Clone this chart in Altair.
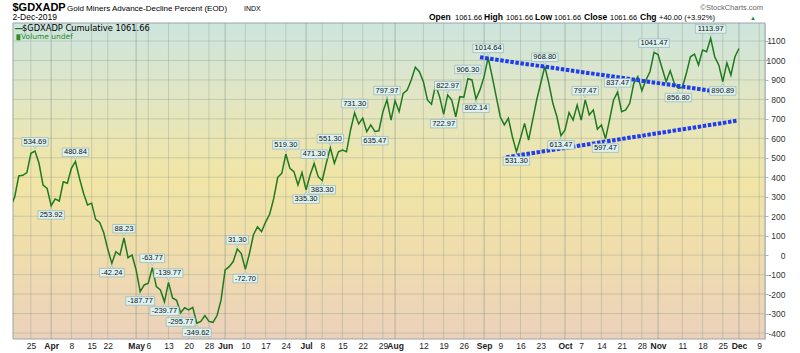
import json
import altair as alt
import pandas as pd

# ---------------- data ----------------
# cumulative advance-decline value per trading day (index 0 = 18-Mar-2019)
values = [
    250, 300, 407, 410, 424, 523, 534.69, 472, 360, 343,
    253.92, 289, 278, 377, 369, 446, 480.84, 395, 318, 258,
    267, 184, 168, 115, 30, -42.24, 18, 1, 88.23, -13,
    1, -76, -187.77, -153, -144, -63.77, -162, -179, -239.77, -139.77,
    -220, -232, -295.77, -270, -281, -268, -349.62, -340, -310, -340,
    -345, -310, -230, -76, -59, -33, 31.30, 8, -72.70, 8,
    105, 145, 121, 170, 210, 290, 400, 420, 519.30, 446,
    429, 360, 424, 335.30, 412, 471.30, 403, 383.30, 472, 551.30,
    472, 531, 540, 531, 643, 731.30, 674, 703, 634, 669,
    635.47, 639, 737, 797.97, 694, 793, 737, 831, 848, 900,
    965, 942, 891, 797, 775, 874, 814, 722.97, 822.97, 797,
    711, 814, 811, 906.30, 900, 802.14, 850, 917, 1014.64, 917,
    814, 711, 669, 703, 608, 531.30, 600, 677, 591, 694,
    797, 883, 968.80, 883, 780, 711, 613.47, 643, 732, 694,
    771, 694, 797.47, 720, 746, 647, 669, 597.47, 694, 797,
    837.47, 737, 746, 780, 883, 917, 845, 900, 942, 1041.47,
    1030, 960, 891, 947, 883, 856.80, 862, 934, 1019, 1033,
    977, 1054, 1045, 1113.97, 1019, 977, 890.89, 988, 925, 1019,
    1061.66,
]

# annotated highs (+1) and lows (-1)
ann_idx = [6, 10, 16, 25, 28, 32, 35, 38, 39, 42, 46, 56, 58, 68, 73, 75, 77, 79,
           85, 90, 93, 107, 108, 113, 115, 118, 125, 132, 136, 142, 147, 150,
           159, 165, 173, 176]
ann_side = [1, -1, 1, -1, 1, -1, 1, -1, 1, -1, -1, 1, -1, 1, -1, 1, -1, 1,
            1, -1, 1, -1, 1, 1, -1, 1, -1, 1, -1, 1, -1, 1,
            1, -1, 1, -1]

# x-axis ticks (trading-day index) and their labels
tick_idx = [5, 10, 15, 20, 24, 31, 34, 39, 44, 49, 53, 58, 63, 68, 73, 77, 82, 87, 92,
            95, 102, 107, 112, 117, 121, 126, 131, 137, 141, 146, 151, 156, 160, 166,
            171, 176, 180, 185]
tick_lbl = ['25', 'Apr', '8', '15', '22', 'May', '6', '13', '20', '28', 'Jun', '10', '17',
            '24', 'Jul', '8', '15', '22', '29', 'Aug', '12', '19', '26', 'Sep', '9', '16',
            '23', 'Oct', '7', '14', '21', '28', 'Nov', '11', '18', '25', 'Dec', '9']
month_idx = [10, 31, 53, 73, 95, 117, 137, 160, 180]
y_ticks = list(range(-400, 1200, 100))

# trend lines
upper_idx = [116.0, 177.6]
upper_val = [1016, 831]
lower_idx = [122.5, 179.6]
lower_val = [503, 691]

# ---------------- layout ----------------
W, H = 752, 316
X_LO, X_HI = 0.57, 186.43
Y_LO, Y_HI = -430.6, 1192.4
PPI = W / (X_HI - X_LO)
FONT = "Liberation Sans"

xs = alt.Scale(domain=[X_LO, X_HI], nice=False, zero=False)
ys = alt.Scale(domain=[Y_LO, Y_HI], nice=False, zero=False)

df = pd.DataFrame({"idx": list(range(len(values))), "v": values})
ann = pd.DataFrame({"idx": ann_idx, "v": [values[i] for i in ann_idx], "side": ann_side})
ticks = pd.DataFrame({"idx": tick_idx, "lbl": tick_lbl})
ticks["month"] = [1 if i in month_idx else 0 for i in tick_idx]
ydf = pd.DataFrame({"v": y_ticks})
trend = pd.DataFrame({
    "idx": upper_idx + lower_idx,
    "v": upper_val + lower_val,
    "grp": ["u", "u", "l", "l"],
})
one = pd.DataFrame({"a": [0]})

BOXF = "#def3f1"
BOXS = "#93b4b6"

label_expr = f"{json.dumps(tick_lbl)}[indexof({json.dumps(tick_idx)}, datum.value)]"
xaxis = alt.Axis(
    values=tick_idx, labelExpr=label_expr, grid=False, domain=False, ticks=False,
    labelPadding=2, labelFontSize=8.5, labelFont=FONT, labelColor="#222",
    labelFontWeight={"condition": {"test": f"indexof({json.dumps(month_idx)}, datum.value) >= 0",
                                   "value": "bold"}, "value": "normal"},
    labelOverlap=False, labelFlush=False, labelBound=False, title=None,
)
yaxis = alt.Axis(
    orient="right", values=y_ticks, grid=False, domainColor="#9fb6c2", domainDash=[1, 1],
    tickColor="#9fb6c2", tickSize=3, labelAlign="right", labelPadding=17,
    labelExpr="'' + datum.value",
    labelFontSize=8.5, labelFont=FONT, labelColor="#333", title=None,
    labelBound=False, labelFlush=False, labelOverlap=False,
)


def X(field):
    return alt.X(field, scale=xs, axis=xaxis)


def Y(field):
    return alt.Y(field, scale=ys, axis=yaxis)


bg = alt.Chart(one).mark_rect(
    fill=alt.Gradient(
        gradient="linear",
        stops=[
            alt.GradientStop(color="#cde5de", offset=0),
            alt.GradientStop(color="#e3e6c2", offset=0.25),
            alt.GradientStop(color="#f1e5a6", offset=0.5),
            alt.GradientStop(color="#efdcae", offset=0.75),
            alt.GradientStop(color="#ebd1bb", offset=1),
        ],
        x1=0, x2=0, y1=0, y2=1,
    ),
    stroke="#9aa6a6", strokeWidth=1,
).encode(x=alt.value(0), x2=alt.value(W), y=alt.value(0), y2=alt.value(H))

hgrid = alt.Chart(ydf).mark_rule(color="#7f8f80", strokeWidth=1, opacity=0.3).encode(
    y=Y("v:Q")
)
vgrid = alt.Chart(ticks).mark_rule(color="#7f8f80", strokeWidth=1).encode(
    x=X("idx:Q"),
    opacity=alt.condition("datum.month == 1", alt.value(0.5), alt.value(0.3)),
)

line = alt.Chart(df).mark_line(color="#1f7a1f", strokeWidth=1.5, clip=True).encode(
    x=X("idx:Q"), y=Y("v:Q"),
)

trend_lines = alt.Chart(trend).mark_line(
    color="#1e3cf0", strokeWidth=4, strokeDash=[3.5, 1.6], strokeCap="butt"
).encode(x=X("idx:Q"), y=Y("v:Q"), detail="grp:N")

ann_base = alt.Chart(ann).transform_calculate(
    label="(datum.v < 0 ? '-' : '') + format(abs(datum.v), '.2f')"
).transform_calculate(
    wpx="4.17*length(datum.label) - 2.09 - (datum.v < 0 ? 1.67 : 0) + 3.5"
).transform_calculate(
    xa=f"datum.idx - datum.wpx / 2 / {PPI}",
    xb=f"datum.idx + datum.wpx / 2 / {PPI}",
)


def ann_layers(side):
    sel = ann_base.transform_filter(f"datum.side == {side}")
    up = side > 0
    tri = sel.mark_point(
        shape="triangle-down" if up else "triangle-up", size=22, filled=True,
        fill=BOXF, stroke=BOXS, strokeWidth=0.6, opacity=1,
        yOffset=-4 if up else 4,
    ).encode(x=X("idx:Q"), y=Y("v:Q"))
    box = sel.mark_rect(
        fill=BOXF, stroke=BOXS, strokeWidth=0.7,
        yOffset=-13.5 if up else 5, y2Offset=-5 if up else 13.5,
    ).encode(x=X("xa:Q"), x2="xb:Q", y=Y("v:Q"), y2="v:Q")
    txt = sel.mark_text(
        dy=-9.2 if up else 9.3, fontSize=7.5, font=FONT, color="#111", baseline="middle",
    ).encode(x=X("idx:Q"), y=Y("v:Q"), text="label:N")
    return [tri, box, txt]


def txt(s, x, y, size, weight="normal", color="#000", align="left", font=FONT):
    return alt.Chart(one).mark_text(
        text=s, align=align, baseline="alphabetic", fontSize=size,
        fontWeight=weight, color=color, font=font,
    ).encode(x=alt.value(x - 13), y=alt.value(y - 23))


header = [
    txt("$GDXADP", 12.5, 10.5, 11, "bold"),
    txt("Gold Miners Advance-Decline Percent (EOD)", 67, 10.5, 8),
    txt("INDX", 244, 10.5, 7),
    txt("2-Dec-2019", 12.5, 19.5, 8.5),
    txt("\u00a9StockCharts.com", 763, 9.5, 7.5, color="#666", align="right"),
    txt("Open", 429, 19.5, 8.5, "bold"),
    txt("1061.66", 455, 19.5, 7.5),
    txt("High", 484, 19.5, 8.5, "bold"),
    txt("1061.66", 506, 19.5, 7.5),
    txt("Low", 535, 19.5, 8.5, "bold"),
    txt("1061.66", 554, 19.5, 7.5),
    txt("Close", 584, 19.5, 8.5, "bold"),
    txt("1061.66", 610, 19.5, 7.5),
    txt("Chg", 640, 19.5, 8.5, "bold"),
    txt("+40.00 (+3.92%)", 659, 19.5, 7.5),
    txt("\u25b2", 750, 19.5, 6, color="#2a8a2a"),
    txt("\u2014", 14.5, 30.5, 9, "bold", color="#1f7a1f", font="DejaVu Sans"),
    txt("$GDXADP Cumulative 1061.66", 22, 30.5, 8.3, font="DejaVu Sans"),
    txt("\u2590\u258c", 14.5, 38.5, 5, color="#2a8a2a", font="DejaVu Sans"),
    txt("Volume undef", 21, 38.5, 7.5, color="#2a8a2a", font="DejaVu Sans"),
]

chart = alt.layer(
    bg, hgrid, vgrid, line, trend_lines,
    *ann_layers(1), *ann_layers(-1),
    *header,
).properties(
    width=W, height=H,
    autosize=alt.AutoSizeParams(type="none"),
    padding={"left": 13, "top": 23, "right": 35, "bottom": 14},
).configure(background="white").configure_view(stroke=None)

chart.save("out.html", embed_options={"renderer": "svg", "actions": False})
